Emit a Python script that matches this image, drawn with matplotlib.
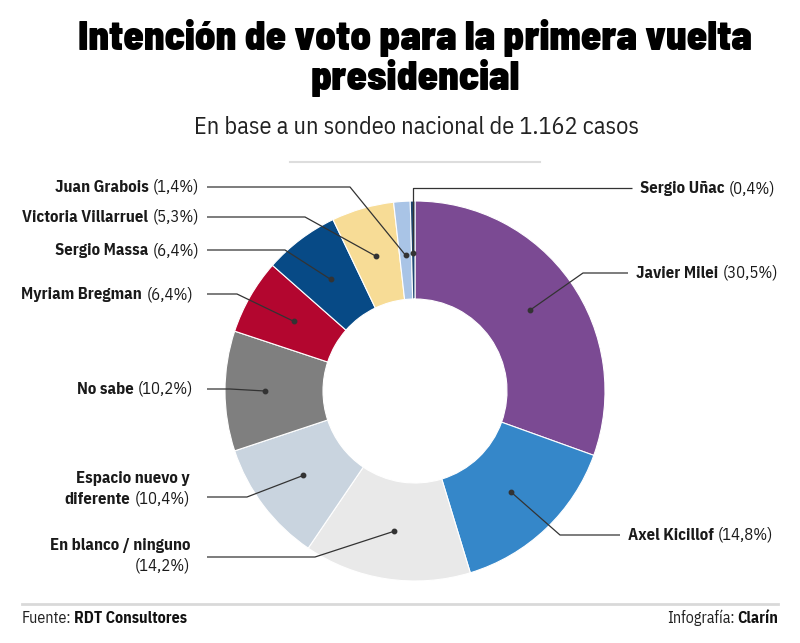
import matplotlib
matplotlib.use("Agg")
import matplotlib.pyplot as plt
from matplotlib.offsetbox import TextArea, HPacker, VPacker, AnnotationBbox
import numpy as np

# data, clockwise from the top
names = ["Javier Milei", "Axel Kicillof", "En blanco / ninguno", "Espacio nuevo y diferente",
         "No sabe", "Myriam Bregman", "Sergio Massa", "Victoria Villarruel", "Juan Grabois", "Sergio Uñac"]
values = [30.5, 14.8, 14.2, 10.4, 10.2, 6.4, 6.4, 5.3, 1.4, 0.4]
colors = ["#7b4a93", "#3587c9", "#e9e9e9", "#c9d4df", "#7f7f7f",
          "#b3062f", "#074a86", "#f7dc96", "#a9c4e6", "#1f4670"]

FONT = "IBM Plex Sans Condensed"
TITLE_FONT = "Barlow Semi Condensed"
H = 643
cx, cy, R, W = 415, H - 391, 190, 98

fig = plt.figure(figsize=(8, 6.43), dpi=100)
ax = fig.add_axes([0, 0, 1, 1])
ax.pie(values, colors=colors, startangle=90, counterclock=False, radius=R, center=(cx, cy),
       wedgeprops=dict(width=W, edgecolor="white", linewidth=0.8))
ax.set_xlim(0, 800)
ax.set_ylim(0, H)
ax.set_aspect("auto")
ax.axis("off")
renderer = fig.canvas.get_renderer()


def fit(t, width):
    # scale a text so that it spans the given width in pixels
    w = t.get_window_extent(renderer).width
    t.set_fontsize(t.get_fontsize() * width / w)


def pct(v):
    return "(" + ("%.1f" % v).replace(".", ",") + "%)"


# label layout: (line1 bold, line2 bold, text x, text y, side, line start x, knee x, leader y, dot radius)
layout = {
    "Javier Milei": ("Javier Milei", None, 636, 273, "R", 628, 583, 273, 140),
    "Axel Kicillof": ("Axel Kicillof", None, 628, 535, "R", 620, 560, 535, 140),
    "En blanco / ninguno": ("En blanco / ninguno", "", 190, 556, "L", 207, 315, 557, 142),
    "Espacio nuevo y diferente": ("Espacio nuevo y", "diferente", 190, 489, "L", 207, 247, 497, 140),
    "No sabe": ("No sabe", None, 193, 389, "L", 207, 230, 389, 150),
    "Myriam Bregman": ("Myriam Bregman", None, 193, 294, "L", 207, 237, 294, 140),
    "Sergio Massa": ("Sergio Massa", None, 199, 250, "L", 207, 285, 250, 140),
    "Victoria Villarruel": ("Victoria Villarruel", None, 199, 217, "L", 207, 305, 217, 140),
    "Juan Grabois": ("Juan Grabois", None, 199, 187, "L", 207, 350, 187, 136),
    "Sergio Uñac": ("Sergio Uñac", None, 640, 188, "R", 632, None, 188, 138),
}

fs = 12
bold = dict(fontfamily=FONT, fontsize=fs, fontweight="bold", color="#1a1a1a")
reg = dict(fontfamily=FONT, fontsize=fs, color="#1a1a1a")

cum = 0
for name, v in zip(names, values):
    mid = np.radians(90 - 3.6 * (cum + v / 2))
    cum += v
    l1, l2, tx, ty, side, lx, kx, ly, dr = layout[name]
    dx, dy = cx + dr * np.cos(mid), cy + dr * np.sin(mid)
    if kx is None:
        kx = dx
    ax.plot([lx, kx, dx], [H - ly, H - ly, dy], color="#333333", lw=0.9, solid_capstyle="butt")
    ax.plot(dx, dy, "o", color="#333333", ms=3.2)

    if l2 is None:
        box = HPacker(children=[TextArea(l1, textprops=bold), TextArea(pct(v), textprops=reg)],
                      pad=0, sep=3, align="baseline")
    elif l2 == "":
        box = VPacker(children=[TextArea(l1, textprops=bold), TextArea(pct(v), textprops=reg)],
                      pad=0, sep=3, align="right")
    else:
        row2 = HPacker(children=[TextArea(l2, textprops=bold), TextArea(pct(v), textprops=reg)],
                       pad=0, sep=3, align="baseline")
        box = VPacker(children=[TextArea(l1, textprops=bold), row2], pad=0, sep=3, align="right")
    align = (1, 0.5) if side == "L" else (0, 0.5)
    ab = AnnotationBbox(box, (tx, H - ty), xycoords="data", box_alignment=align, frameon=False, pad=0)
    ax.add_artist(ab)

# title and subtitle
t1 = ax.text(415, H - 38, "Intención de voto para la primera vuelta", ha="center", va="center",
             fontfamily=TITLE_FONT, fontsize=30, fontweight=900, color="black")
fit(t1, 675)
ax.text(415, H - 78, "presidencial", ha="center", va="center",
        fontfamily=TITLE_FONT, fontsize=t1.get_fontsize(), fontweight=900, color="black")
sub = ax.text(416, H - 128, "En base a un sondeo nacional de 1.162 casos", ha="center", va="center",
              fontfamily=FONT, fontsize=16, color="#222222")
fit(sub, 447)
ax.plot([290, 540], [H - 162, H - 162], color="#dddddd", lw=1.5)

# footer
ax.plot([22, 778], [H - 604, H - 604], color="#d9d9d9", lw=2)
foot = dict(fontfamily=FONT, fontsize=11.5, color="#222222")
foot_b = dict(fontfamily=FONT, fontsize=11.5, fontweight="bold", color="#111111")
foot_l = HPacker(children=[TextArea("Fuente:", textprops=foot), TextArea("RDT Consultores", textprops=foot_b)],
                 pad=0, sep=1.5, align="baseline")
ax.add_artist(AnnotationBbox(foot_l, (22, H - 618), box_alignment=(0, 0.5), frameon=False, pad=0))
foot_r = HPacker(children=[TextArea("Infografía:", textprops=foot), TextArea("Clarín", textprops=foot_b)],
                 pad=0, sep=1.5, align="baseline")
ax.add_artist(AnnotationBbox(foot_r, (778, H - 618), box_alignment=(1, 0.5), frameon=False, pad=0))

fig.savefig("out.png", dpi=100, facecolor="white")
